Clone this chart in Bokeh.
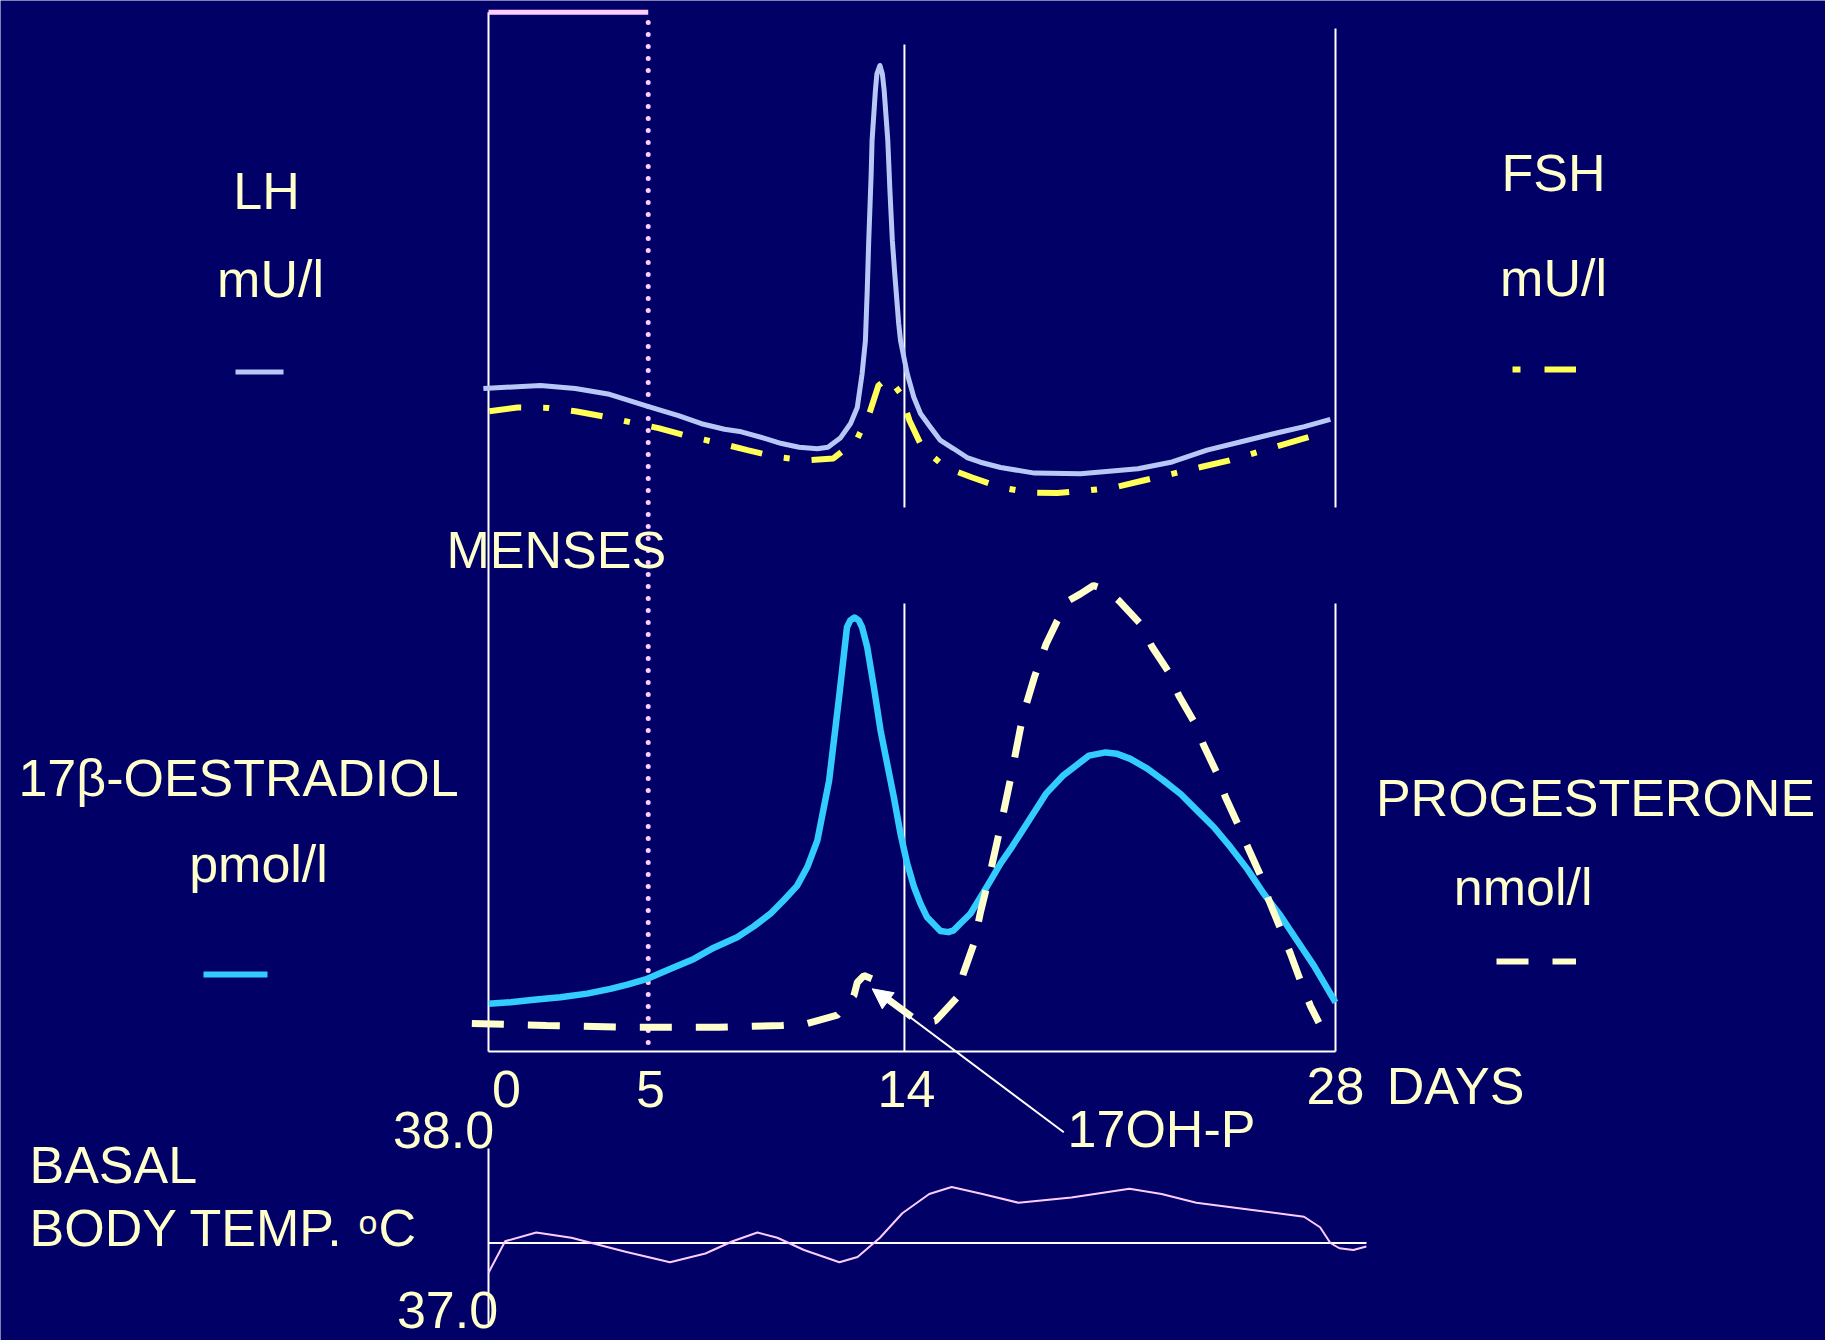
from bokeh.plotting import figure
from bokeh.models import Range1d, Arrow, NormalHead
from bokeh.core.properties import value
from bokeh.embed import file_html
from bokeh.resources import INLINE

# ---------------- data ----------------
# LH (mU/l) by cycle day
lh_day = [-0.17, 1.72, 2.87, 4.0, 5.32, 6.28, 7.04, 7.8, 8.36, 9.13, 9.69, 10.27, 10.87,
          11.22, 11.64, 11.97, 12.19, 12.35, 12.46, 12.52, 12.57, 12.65, 12.68, 12.79,
          12.84, 12.94, 13.02, 13.08, 13.2, 13.27, 13.35, 13.43, 13.56, 13.62, 13.84,
          14.06, 14.28, 14.61, 14.94, 15.38, 15.82, 16.26, 16.93, 18.05, 19.57, 21.47,
          22.6, 23.75, 24.88, 26.02, 26.97, 27.83]
lh_val = [16.2, 16.6, 16.2, 15.4, 13.7, 12.5, 11.4, 10.65, 10.3, 9.4, 8.7, 8.2, 8.0,
          8.2, 9.5, 11.43, 13.6, 18.19, 22.72, 29.52, 36.33, 45.4, 49.93, 56.73,
          59.0, 60.14, 59.0, 56.73, 49.93, 43.13, 36.33, 31.8, 25.03, 22.72, 18.23,
          15.0, 12.79, 10.93, 9.12, 7.99, 6.8, 6.16, 5.44, 4.68, 4.58, 5.28,
          6.2, 7.8, 8.95, 10.1, 11.0, 12.0]

# FSH (mU/l)
fsh_day = [0.03, 0.96, 1.98, 2.87, 3.91, 4.79, 5.62, 6.66, 7.67, 8.56, 9.51, 10.48, 11.4,
           12.17, 12.6, 12.89, 13.22, 13.62, 13.92, 14.34, 15.11, 15.99, 16.91, 17.86,
           18.81, 19.76, 20.71, 21.65, 22.6, 23.55, 24.5, 25.45, 26.4, 27.35, 27.6]
fsh_val = [13.1, 13.6, 13.55, 13.1, 12.3, 11.5, 10.8, 9.65, 8.72, 7.81, 6.88, 6.42, 6.67,
           9.18, 12.9, 16.6, 17.7, 15.5, 11.8, 8.16, 5.44, 4.08, 2.75, 2.05,
           1.96, 2.29, 2.75, 3.67, 4.58, 5.51, 6.42, 7.58, 8.72, 9.88, 10.2]

# 17beta-oestradiol (pmol/l)
e2_day = [0.01, 0.73, 1.5, 2.38, 3.26, 4.03, 4.59, 5.25, 6.02, 6.79, 7.45, 8.22, 8.77,
          9.32, 9.76, 10.2, 10.54, 10.87, 11.26, 11.59, 11.85, 11.96, 12.1, 12.24, 12.35,
          12.52, 12.74, 12.96, 13.18, 13.4, 13.62, 13.84, 14.07, 14.28, 14.5, 14.94,
          15.2, 15.38, 15.6, 15.93, 16.26, 16.6, 16.93, 17.26, 17.59, 18.43, 18.98,
          19.57, 19.85, 20.4, 20.78, 21.22, 21.78, 22.32, 22.88, 23.43, 23.98, 24.53,
          25.08, 25.63, 26.18, 26.73, 27.28, 28.0]
e2_val = [132, 136, 143, 150, 160, 173, 185, 201, 229, 256, 287, 316, 346,
          381, 418, 458, 510, 583, 749, 980, 1173, 1192, 1200, 1192, 1173,
          1118, 1007, 888, 795, 703, 602, 520, 454, 409, 371, 333,
          330, 335, 354, 381, 426, 473, 520, 560, 603, 713, 762,
          800, 818, 827, 823, 809, 782, 749, 712, 666, 620, 565,
          505, 436, 376, 307, 238, 136]

# Progesterone / 17OH-P (nmol/l)
prog_day = [-0.55, 1.92, 4.76, 7.6, 9.7, 10.54, 11.53, 12.08, 12.19, 12.41, 12.68, 13.12,
            14.0, 14.4, 14.78, 15.49, 15.7, 16.05, 16.26, 16.6, 16.93, 17.26, 17.67,
            18.05, 18.43, 18.8, 19.19, 19.57, 20.0, 20.45, 20.83, 21.55, 21.94, 22.49,
            22.82, 23.32, 23.65, 24.09, 24.36, 24.8, 25.13, 25.52, 25.8, 26.18, 26.51,
            26.84, 27.17, 27.45]
prog_val = [3.0, 2.8, 2.6, 2.6, 2.8, 3.0, 3.9, 6.0, 7.4, 8.15, 7.8, 5.8,
            3.7, 3.1, 3.3, 5.8, 8.4, 11.6, 14.9, 19.4, 24.2, 29.3, 36.1,
            40.2, 43.7, 46.2, 48.4, 49.1, 50.0, 49.5, 48.4, 45.9, 43.4, 40.7,
            38.2, 35.4, 32.8, 29.8, 27.3, 24.2, 21.7, 18.9, 16.2, 13.2, 10.5,
            7.6, 4.9, 3.1]

# Basal body temperature (deg C)
bbt_day = [0.0, 0.55, 1.58, 2.74, 4.53, 6.0, 7.17, 8.07, 8.89, 9.55, 10.43, 11.6, 12.2,
           12.94, 13.68, 14.57, 15.31, 16.33, 17.52, 19.27, 21.19, 22.25, 23.4, 25.19,
           26.96, 27.49, 27.83, 28.13, 28.59, 29.02]
bbt_val = [37.29, 37.47, 37.52, 37.49, 37.41, 37.35, 37.40, 37.47, 37.52, 37.49, 37.42,
           37.35, 37.38, 37.49, 37.63, 37.74, 37.78, 37.74, 37.69, 37.72, 37.77, 37.74,
           37.69, 37.65, 37.61, 37.55, 37.46, 37.43, 37.42, 37.44]

day_tick_labels = ["0", "5", "14", "28"]
temp_tick_labels = ["38.0", "37.0"]
BBT_BASELINE = 37.46
MENSES_END = 5.28
MID_CYCLE = 13.75
CYCLE_END = 28.0

# ---------------- layout helpers ----------------
W, H = 1825, 1340
OFF = 0
X0_PX, PX_PER_DAY = 488.0, 30.25
TOP_Y0, TOP_S = 507.0, 7.35          # LH/FSH panel: px per mU/l
MID_Y0 = 1051.0
E2_S = 434.0 / 1200.0                # px per pmol/l
PR_S = 466.0 / 50.0                  # px per nmol/l
BBT_Y38, BBT_S = 1148.0, 175.0       # px per deg C


def dx(wx):
    return (wx - X0_PX) / PX_PER_DAY


def ty(wy):
    return (TOP_Y0 - wy) / TOP_S


def rng(y0, s, v0=0.0):
    return Range1d(v0 - (OFF + H - y0) / s, v0 + (y0 - OFF) / s)


BG = "#000066"
TXT = "#FFFFCC"
AX = "#FFFFFF"
PINK = "#FFCCFF"
LH_C = "#B8C8F6"
FSH_C = "#FFFF55"
E2_C = "#33CCFF"
PR_C = "#FFFFCC"
FONT = value("Liberation Sans")

p = figure(width=W, height=H, output_backend="svg", toolbar_location=None,
           x_range=Range1d(dx(OFF), dx(OFF + W)), y_range=rng(TOP_Y0, TOP_S),
           x_axis_location=None, y_axis_location=None, min_border=0,
           background_fill_color=BG, border_fill_color=BG, outline_line_color=None)
p.grid.visible = False
p.extra_y_ranges = {"e2": rng(MID_Y0, E2_S), "prog": rng(MID_Y0, PR_S),
                    "bbt": rng(BBT_Y38, BBT_S, 38.0)}

# ---------------- frame lines ----------------
p.segment(x0=[0], y0=[ty(1051)], x1=[0], y1=[ty(11.7)], line_color=AX, line_width=2)
p.segment(x0=[0], y0=[ty(11.7)], x1=[MENSES_END], y1=[ty(11.7)], line_color=PINK, line_width=5)
p.segment(x0=[MENSES_END], y0=[ty(22)], x1=[MENSES_END], y1=[ty(1051)], line_color=PINK,
          line_width=5, line_dash="0 12", line_cap="round")
p.segment(x0=[MID_CYCLE, CYCLE_END], y0=[0, 0], x1=[MID_CYCLE, CYCLE_END],
          y1=[ty(44), ty(28)], line_color=AX, line_width=2)
p.segment(x0=[MID_CYCLE, CYCLE_END, 0], y0=[0, 0, 0], x1=[MID_CYCLE, CYCLE_END, CYCLE_END],
          y1=[(MID_Y0 - 603) / PR_S, (MID_Y0 - 603) / PR_S, 0], line_color=AX, line_width=2,
          y_range_name="prog")
p.segment(x0=[0, 0], y0=[38.0, BBT_BASELINE], x1=[0, dx(1366)], y1=[37.0, BBT_BASELINE],
          line_color=AX, line_width=2, y_range_name="bbt")

# ---------------- curves ----------------
p.line(fsh_day, fsh_val, line_color=FSH_C, line_width=6, line_dash="32 22 6 22")
p.line(lh_day, lh_val, line_color=LH_C, line_width=5, line_join="round")
p.line(e2_day, e2_val, line_color=E2_C, line_width=6.5, line_join="round", y_range_name="e2")
p.line(prog_day, prog_val, line_color=PR_C, line_width=7, line_dash="32 24", y_range_name="prog")
p.line(bbt_day, bbt_val, line_color=PINK, line_width=2, line_join="round", y_range_name="bbt")

# ---------------- legend samples ----------------
p.segment(x0=[dx(235)], y0=[ty(371.5)], x1=[dx(283)], y1=[ty(371.5)], line_color=LH_C, line_width=5)
p.segment(x0=[dx(1512), dx(1544)], y0=[ty(369)] * 2, x1=[dx(1520), dx(1575.5)], y1=[ty(369)] * 2,
          line_color=FSH_C, line_width=6)
p.segment(x0=[dx(203)], y0=[ty(974)], x1=[dx(267)], y1=[ty(974)], line_color=E2_C, line_width=6)
p.segment(x0=[dx(1496), dx(1552)], y0=[ty(961)] * 2, x1=[dx(1528), dx(1575.5)], y1=[ty(961)] * 2,
          line_color=PR_C, line_width=6)

# ---------------- arrow to 17OH-P ----------------
p.add_layout(Arrow(end=NormalHead(size=20, fill_color=AX, line_color=AX),
                   x_start=dx(1063.3), y_start=ty(1131.7), x_end=dx(871.7), y_end=ty(988.3),
                   line_color=AX, line_width=2))

# ---------------- texts ----------------
centre_txt = [("LH", 266, 190), ("mU/l", 270, 278), ("FSH", 1553, 172), ("mU/l", 1553, 277),
              ("17\u03b2-OESTRADIOL", 238, 777), ("pmol/l", 258, 863),
              ("PROGESTERONE", 1595, 797.5), ("nmol/l", 1522.6, 886),
              ("17OH-P", 1161, 1128), ("DAYS", 1455, 1085)]
p.text(x=[dx(c[1]) for c in centre_txt], y=[ty(c[2]) for c in centre_txt],
       text=[c[0] for c in centre_txt], text_font=FONT, text_font_size="52px",
       text_color=TXT, text_align="center", text_baseline="middle")

tick_px = [(506, 1088), (650, 1088), (906, 1088), (1335, 1085)]
p.text(x=[dx(t[0]) for t in tick_px], y=[ty(t[1]) for t in tick_px], text=day_tick_labels,
       text_font=FONT, text_font_size="52px", text_color=TXT, text_align="center",
       text_baseline="middle")

temp_px = [(443, 1129), (447, 1309)]
p.text(x=[dx(t[0]) for t in temp_px], y=[ty(t[1]) for t in temp_px], text=temp_tick_labels,
       text_font=FONT, text_font_size="52px", text_color=TXT, text_align="center",
       text_baseline="middle")

left_txt = [("MENSES", 446, 549), ("BASAL", 29, 1164), ("BODY TEMP.", 29, 1227), ("C", 378, 1227)]
p.text(x=[dx(c[1]) for c in left_txt], y=[ty(c[2]) for c in left_txt],
       text=[c[0] for c in left_txt], text_font=FONT, text_font_size="52px",
       text_color=TXT, text_align="left", text_baseline="middle")
p.text(x=[dx(358)], y=[ty(1221)], text=["o"], text_font=FONT, text_font_size="34px",
       text_color=TXT, text_align="left", text_baseline="middle")

open("out.html", "w").write(file_html(p, INLINE))
